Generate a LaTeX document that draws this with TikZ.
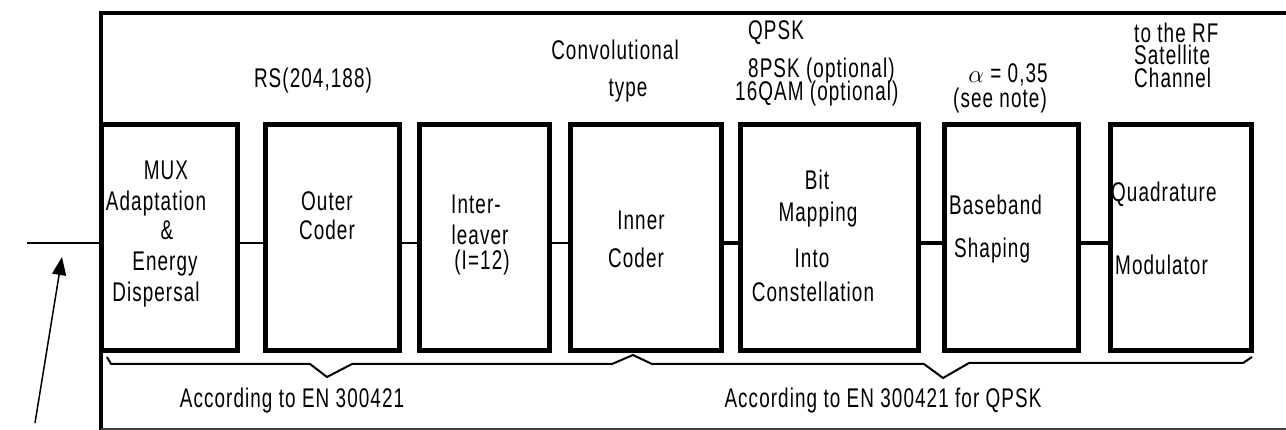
\documentclass[tikz,border=0pt]{standalone}
\usepackage{fontspec}
\setmainfont[FakeStretch=0.7,LetterSpace=4]{Liberation Sans}
\usetikzlibrary{arrows.meta}
\begin{document}
\begin{tikzpicture}[x=1pt,y=-1pt,
  blk/.style={draw, line width=5pt, inner sep=0pt, minimum height=226pt},
  lbl/.style={inner sep=0pt, anchor=base, font=\fontsize{27}{30}\selectfont},
  lbll/.style={lbl, anchor=base west},
  thinlink/.style={line width=2pt},
  thicklink/.style={line width=4.5pt},
  brace/.style={line width=2pt, line join=miter},
  frame/.style={line width=4.5pt}]
\useasboundingbox (0,0) rectangle (1286,430);
% frame
\draw[frame] (1286,13) -- (101,13) -- (101,430);
\draw[line width=1.5pt, black!75] (101,429) -- (1286,429);
% boxes
\node[blk, minimum width=136pt] (mux) at (169,238) {};
\node[blk, minimum width=134pt] (outer) at (332,238) {};
\node[blk, minimum width=130pt] (inter) at (484,238) {};
\node[blk, minimum width=151pt] (inner) at (645.5,238) {};
\node[blk, minimum width=178pt] (bitmap) at (829,238) {};
\node[blk, minimum width=134pt] (bband) at (1011,238) {};
\node[blk, minimum width=141pt] (quad) at (1180.5,238) {};
% connectors
\coordinate (lvl) at (0,243);
\coordinate (src) at (27,243);
\draw[thinlink] (src) -- (mux.west |- lvl);
\draw[thinlink] (mux.east |- lvl) -- (outer.west |- lvl);
\draw[thinlink] (outer.east |- lvl) -- (inter.west |- lvl);
\draw[thinlink] (inter.east |- lvl) -- (inner.west |- lvl);
\draw[thicklink] (inner.east |- lvl) -- (bitmap.west |- lvl);
\draw[thicklink] (bitmap.east |- lvl) -- (bband.west |- lvl);
\coordinate (qin) at (1112,243);
\draw[thicklink] (bband.east |- lvl) -- (qin);
% arrow
\coordinate (arrtail) at (35,423);
\coordinate (arrtip) at (62,257);
\draw[line width=1.5pt, -{Triangle[length=18pt,width=14pt]}] (arrtail) -- (arrtip);
% braces
\draw[brace] (107,357) -- (111,364) -- (310,364) -- (327,377) -- (352,364) -- (612,364) -- (633,355)
  -- (652,364) -- (924,364) -- (943,378) -- (969,363) -- (1243,363) -- (1252,357);
% top labels
\node[lbl] (rs) at (313,88) {RS(204,188)};
\node[lbl] (conv1) at (615,60) {Convolutional};
\node[lbl] (conv2) at (628,97) {type};
\node[lbll] (mod1) at (748,40) {QPSK};
\node[lbll] (mod2) at (748,78) {8PSK (optional)};
\node[lbll] (mod3) at (735,101) {16QAM (optional)};
\node[lbl] (alpha) at (1008,83) {$\alpha$ = 0,35};
\node[lbl] (note) at (1000,108) {(see note)};
\node[lbll] (rf1) at (1134,43) {to the RF};
\node[lbll] (rf2) at (1134,65) {Satellite};
\node[lbll] (rf3) at (1134,88) {Channel};
% box labels
\node[lbl] (t1a) at (166,180) {MUX};
\node[lbl] (t1b) at (156,211) {Adaptation};
\node[lbl] (t1c) at (167,240) {\&};
\node[lbl] (t1d) at (165,271) {Energy};
\node[lbl] (t1e) at (156,302) {Dispersal};
\node[lbl] (t2a) at (327,211) {Outer};
\node[lbl] (t2b) at (327,240) {Coder};
\node[lbl] (t3a) at (476,214) {Inter-};
\node[lbl] (t3b) at (480,245) {leaver};
\node[lbl] (t3c) at (482,270) {(I=12)};
\node[lbl] (t4a) at (641,230) {Inner};
\node[lbl] (t4b) at (636,268) {Coder};
\node[lbl] (t5a) at (817,190) {Bit};
\node[lbl] (t5b) at (818,222) {Mapping};
\node[lbl] (t5c) at (812,268) {Into};
\node[lbl] (t5d) at (813,302) {Constellation};
\node[lbll] (t6a) at (949,215) {Baseband};
\node[lbll] (t6b) at (954,258) {Shaping};
\node[lbll] (t7a) at (1111,202) {Quadrature};
\node[lbll] (t7b) at (1115,275) {Modulator};
% bottom labels
\node[lbl] (std1) at (292,408) {According to EN 300421};
\node[lbl] (std2) at (883,408) {According to EN 300421 for QPSK};
\end{tikzpicture}
\end{document}
